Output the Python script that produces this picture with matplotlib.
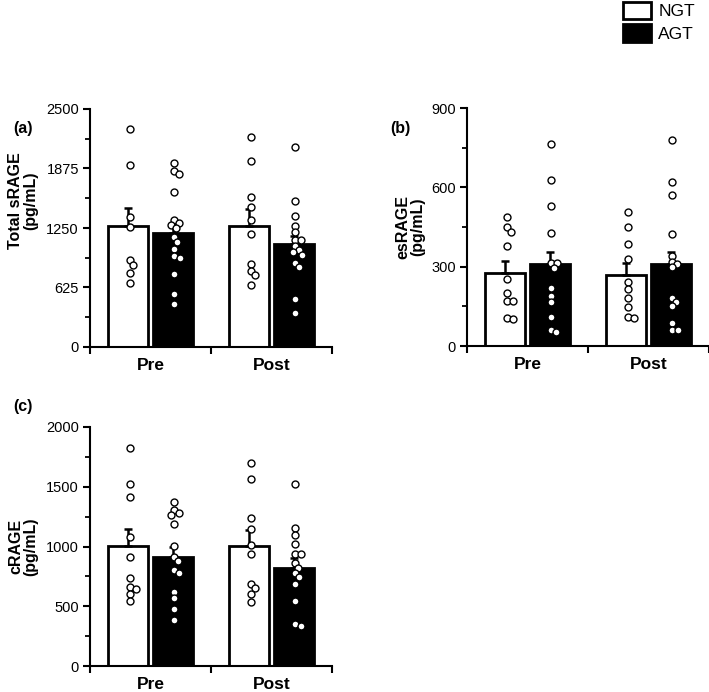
import numpy as np
import matplotlib
matplotlib.use('Agg')
import matplotlib.pyplot as plt
import matplotlib.ticker as mtick
from matplotlib.patches import Patch

plt.rcParams['font.family'] = ['Liberation Sans', 'DejaVu Sans']

groups = ['Pre', 'Post']

# (a) Total sRAGE (pg/mL)
sr_ngt_mean = [1274, 1271]
sr_ngt_sem = [183, 175]
sr_agt_mean = [1201, 1079]
sr_agt_sem = [100, 85]
sr_pre_ngt = [2287, 1912, 1362, 1257, 914, 861, 781, 669]
sr_pre_agt = [1936, 1849, 1814, 1631, 1334, 1306, 1282, 1247, 1159, 1106,
              1029, 959, 938, 767, 557, 452]
sr_post_ngt = [2209, 1957, 1572, 1474, 1334, 1184, 872, 798, 756, 651]
sr_post_agt = [2104, 1537, 1376, 1271, 1211, 1124, 1124, 1061, 1019, 1001,
               966, 885, 843, 501, 360]

# (b) esRAGE (pg/mL)
es_ngt_mean = [275, 268]
es_ngt_sem = [46, 45]
es_agt_mean = [309, 310]
es_agt_sem = [48, 47]
es_pre_ngt = [487, 449, 432, 379, 253, 199, 170, 170, 105, 101]
es_pre_agt = [763, 628, 531, 428, 313, 313, 294, 220, 190, 168, 111, 61, 52]
es_post_ngt = [505, 451, 386, 329, 243, 214, 180, 149, 111, 105]
es_post_agt = [779, 621, 571, 424, 340, 319, 309, 298, 183, 168, 152, 88, 61, 61]

# (c) cRAGE (pg/mL)
c_ngt_mean = [1004, 1004]
c_ngt_sem = [142, 134]
c_agt_mean = [915, 823]
c_agt_sem = [78, 83]
c_pre_ngt = [1827, 1525, 1417, 1080, 913, 740, 662, 648, 606, 548]
c_pre_agt = [1375, 1305, 1283, 1264, 1186, 1004, 915, 881, 803, 776, 622,
             567, 474, 385]
c_post_ngt = [1696, 1562, 1236, 1144, 1013, 935, 684, 650, 600, 538]
c_post_agt = [1521, 1152, 1096, 1018, 937, 937, 862, 823, 781, 747, 684,
              544, 349, 335]

W, H = 709, 692
fig = plt.figure(figsize=(W / 100, H / 100), dpi=100)

BW = 0.325   # bar width
DX = 0.185   # bar offset from group centre


def swarm(vals, ymax, diam=6.5):
    # simple beeswarm, worked out in pixel units (238 px per ymax, 120 px per x unit)
    ys = np.asarray(vals, float) * 238.0 / ymax
    cands = sorted(np.arange(-20, 21, 1.0), key=lambda v: (abs(v), -v))
    placed = []
    offs = np.zeros(len(ys))
    for i in np.argsort(-ys):
        for c in cands:
            if all((c - px) ** 2 + (ys[i] - py) ** 2 >= (diam * 0.85) ** 2
                   for px, py in placed):
                break
        offs[i] = c + 1.5
        placed.append((c, ys[i]))
    return offs / 120.0


def panel(rect, pts, ngt_mean, ngt_sem, agt_mean, agt_sem, ymax, step,
          ylabel, label_x, label_y):
    ax = fig.add_axes(rect)
    x = np.arange(len(groups))
    ax.bar(x - DX, ngt_mean, BW, color='white', edgecolor='black',
           linewidth=2.0, zorder=2)
    ax.bar(x + DX, agt_mean, BW, color='black', edgecolor='black',
           linewidth=2.0, zorder=2)
    ax.errorbar(x - DX, ngt_mean, yerr=[np.zeros(2), ngt_sem], fmt='none',
                ecolor='black', elinewidth=1.8, capsize=3, capthick=1.8, zorder=3)
    ax.errorbar(x + DX, agt_mean, yerr=[np.zeros(2), agt_sem], fmt='none',
                ecolor='black', elinewidth=1.8, capsize=3, capthick=1.8, zorder=3)

    centres = [x[0] - DX, x[0] + DX, x[1] - DX, x[1] + DX]
    for cx, vals in zip(centres, pts):
        ax.scatter(cx + swarm(vals, ymax), vals, s=25, facecolor='white',
                   edgecolor='black', linewidth=1.0, zorder=4, clip_on=False)

    ax.set_xlim(-0.5, 1.5)
    ax.set_ylim(0, ymax)
    for s in ['top', 'right']:
        ax.spines[s].set_visible(False)
    for s in ['left', 'bottom']:
        ax.spines[s].set_linewidth(1.5)

    ax.set_yticks(np.arange(0, ymax + 1, step))
    ax.yaxis.set_minor_locator(mtick.MultipleLocator(step / 2))
    ax.yaxis.set_major_formatter(mtick.FormatStrFormatter('%d'))
    ax.tick_params(axis='y', which='major', length=5, width=1.5,
                   labelsize=10.5, pad=3)
    ax.tick_params(axis='y', which='minor', length=3.5, width=1.3)

    ax.set_xticks([-0.5, 0.5, 1.5])
    ax.set_xticklabels([])
    ax.set_xticks([0, 1], minor=True)
    ax.set_xticklabels(groups, minor=True, fontweight='bold', fontsize=12.5)
    ax.tick_params(axis='x', which='major', length=5, width=1.5)
    ax.tick_params(axis='x', which='minor', length=0, pad=8)

    ax.set_ylabel(ylabel, fontsize=11.5, fontweight='bold', va='center',
                  linespacing=1.0)
    ax.yaxis.set_label_coords(label_x, label_y)
    return ax


panel([90 / W, 1 - 347 / H, 242 / W, 238 / H],
      [sr_pre_ngt, sr_pre_agt, sr_post_ngt, sr_post_agt],
      sr_ngt_mean, sr_ngt_sem, sr_agt_mean, sr_agt_sem, 2500, 625,
      'Total sRAGE\n(pg/mL)', -0.277, 0.615)

panel([467 / W, 1 - 346 / H, 242 / W, 238 / H],
      [es_pre_ngt, es_pre_agt, es_post_ngt, es_post_agt],
      es_ngt_mean, es_ngt_sem, es_agt_mean, es_agt_sem, 900, 300,
      'esRAGE\n(pg/mL)', -0.236, 0.5)

panel([90 / W, 1 - 666 / H, 242 / W, 239 / H],
      [c_pre_ngt, c_pre_agt, c_post_ngt, c_post_agt],
      c_ngt_mean, c_ngt_sem, c_agt_mean, c_agt_sem, 2000, 500,
      'cRAGE\n(pg/mL)', -0.277, 0.5)

for lbl, px, py in [('(a)', 23, 129), ('(b)', 400, 129), ('(c)', 23, 406)]:
    fig.text(px / W, 1 - py / H, lbl, ha='center', va='center',
             fontweight='bold', fontsize=11.5)

handles = [Patch(facecolor='white', edgecolor='black', linewidth=2, label='NGT'),
           Patch(facecolor='black', edgecolor='black', linewidth=2, label='AGT')]
fig.legend(handles=handles, loc='upper left', bbox_to_anchor=(621 / W, 1.0),
           frameon=False, fontsize=12.5, handlelength=1.65, handleheight=1.15,
           handletextpad=0.4, labelspacing=0.3, borderpad=0.1, borderaxespad=0)

fig.savefig('out.png', dpi=100)
